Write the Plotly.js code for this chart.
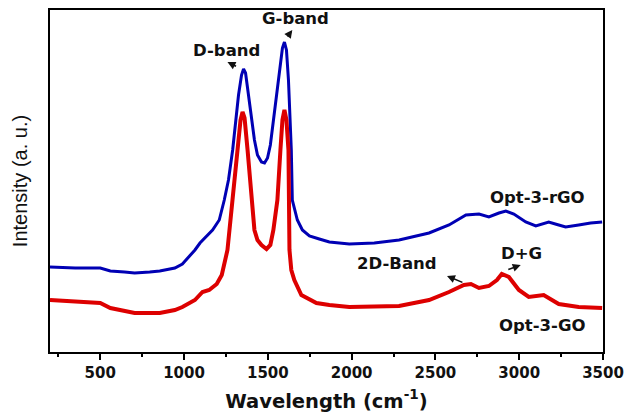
<!DOCTYPE html>
<html>
<head>
<meta charset="utf-8">
<script src="https://cdn.plot.ly/plotly-3.0.1.min.js"></script>
<style>html,body{margin:0;padding:0;background:#fff;}#chart{width:627px;height:414px;}</style>
</head>
<body>
<div id="chart"></div>
<script>
// Raman shift (cm-1) and intensity (a.u.)
var rgoShift = [200,350,500,560,645,705,795,855,945,990,1065,1095,1170,1210,1240,1265,1290,1307,1325,1343,1355,1367,1385,1402,1420,1438,1462,1480,1498,1515,1533,1551,1569,1587,1599,1611,1623,1635,1640,1646,1676,1706,1748,1807,1867,1986,2135,2283,2462,2581,2682,2760,2819,2879,2920,2968,3039,3099,3176,3236,3277,3355,3426,3495];
var rgoIntensity = [85,84,84,81,80,79,80,81,84,88,102,109,122,132,152,172,202,232,257,277,283,279,257,232,212,197,190,189,194,207,232,257,282,304,310,302,272,232,202,152,132,122,116,113,110,108,109,112,119,127,137,138,135,139,141,138,130,126,130,127,125,127,129,130];

var goShift = [200,350,500,560,645,705,795,855,945,990,1065,1110,1150,1195,1225,1259,1289,1319,1337,1349,1361,1379,1402,1420,1438,1462,1492,1515,1533,1557,1575,1587,1599,1611,1623,1629,1640,1658,1700,1790,1867,1986,2283,2462,2581,2670,2712,2760,2819,2867,2896,2938,2998,3057,3146,3236,3355,3495];
var goIntensity = [52,50,49,44,41,39,39,39,42,45,52,60,62,68,77,102,152,202,232,240,234,202,152,122,112,107,103,107,122,152,202,232,242,232,202,102,82,72,57,49,47,45,46,52,60,67,68,64,66,72,78,75,62,55,57,48,45,44];

var xTicks = [500,1000,1500,2000,2500,3000,3500];

var labelFont = {family: 'DejaVu Sans', size: 16.5, color: '#111'};

var traces = [
  {x: rgoShift, y: rgoIntensity, type: 'scatter', mode: 'lines', name: 'Opt-3-rGO',
   line: {color: '#0000b4', width: 3}},
  {x: goShift, y: goIntensity, type: 'scatter', mode: 'lines', name: 'Opt-3-GO',
   line: {color: '#dd0000', width: 4}}
];

function txt(t, x, y) {
  return {text: '<b>' + t + '</b>', x: x, y: y, xref: 'x', yref: 'y', showarrow: false,
          xanchor: 'center', yanchor: 'middle', font: labelFont};
}
function arr(hx, hy, tx, ty) {
  return {text: '', x: hx, y: hy, ax: tx, ay: ty, xref: 'x', yref: 'y', axref: 'x', ayref: 'y',
          showarrow: true, arrowhead: 2, arrowsize: 1, arrowwidth: 1.6, arrowcolor: '#111',
          standoff: 0, startstandoff: 0};
}

var layout = {
  width: 627, height: 414,
  margin: {l: 50, r: 24, t: 10, b: 62},
  paper_bgcolor: '#fff', plot_bgcolor: '#fff',
  showlegend: false,
  xaxis: {
    range: [200, 3500], tickvals: xTicks, ticktext: xTicks.map(String),
    ticks: 'outside', ticklen: 6, tickwidth: 2, tickcolor: '#000',
    minor: {dtick: 250, tick0: 0, ticks: 'outside', ticklen: 3, tickwidth: 2, tickcolor: '#000'},
    showline: true, linewidth: 2, linecolor: '#000', mirror: true,
    showgrid: false, zeroline: false,
    tickfont: {family: 'DejaVu Sans', size: 15, color: '#111', weight: 'bold'},
    title: {text: '<b>Wavelength (cm<sup>-1</sup>)</b>', standoff: 13,
            font: {family: 'DejaVu Sans', size: 19.5, color: '#111'}}
  },
  yaxis: {
    range: [0, 342], showticklabels: false, ticks: '',
    showline: true, linewidth: 2, linecolor: '#000', mirror: true,
    showgrid: false, zeroline: false,
    title: {text: 'Intensity (a. u.)', standoff: 15,
            font: {family: 'Liberation Sans', size: 20, color: '#111'}}
  },
  annotations: [
    txt('D-band', 1254, 302),
    txt('G-band', 1664, 334),
    txt('2D-Band', 2271, 89),
    txt('D+G', 3015, 99),
    txt('Opt-3-rGO', 3111, 155),
    txt('Opt-3-GO', 3135, 27),
    arr(1259, 290, 1319, 285),
    arr(1646, 322, 1611, 314),
    arr(2569, 76, 2670, 69),
    arr(3009, 87, 2926, 82)
  ]
};

Plotly.newPlot('chart', traces, layout, {displayModeBar: false, staticPlot: true});
</script>
</body>
</html>
